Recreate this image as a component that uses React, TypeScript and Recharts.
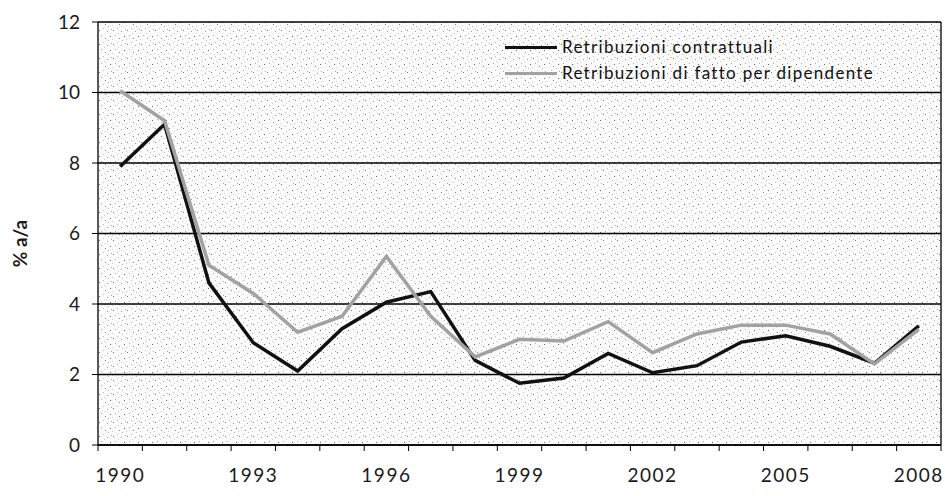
import {
    CartesianGrid,
    Legend,
    Line,
    LineChart,
    ReferenceLine,
    XAxis,
    YAxis,
} from "recharts";

const years = [
    1990, 1991, 1992, 1993, 1994, 1995, 1996, 1997, 1998, 1999, 2000, 2001,
    2002, 2003, 2004, 2005, 2006, 2007, 2008,
];
const contrattuali = [
    7.9, 9.1, 4.6, 2.9, 2.1, 3.3, 4.05, 4.35, 2.4, 1.75, 1.9, 2.6, 2.05, 2.25,
    2.92, 3.1, 2.8, 2.32, 3.38,
];
const fatto = [
    10.05, 9.2, 5.1, 4.3, 3.2, 3.65, 5.35, 3.65, 2.5, 3.0, 2.95, 3.5, 2.62, 3.15,
    3.4, 3.4, 3.15, 2.3, 3.28,
];
const yearLabels = [1990, 1993, 1996, 1999, 2002, 2005, 2008];
const yTicks = [0, 2, 4, 6, 8, 10, 12];

const seriesNames = {
    contrattuali: "Retribuzioni contrattuali",
    fatto: "Retribuzioni di fatto per dipendente",
};

const data = years.map((year, i) => ({
    year,
    contrattuali: contrattuali[i],
    fatto: fatto[i],
}));

// tick marks sit between the years, labels on the years
const boundaries = [...years.map((y) => y - 0.5), years[years.length - 1] + 0.5];
const xTicks = [...boundaries, ...yearLabels].sort((a, b) => a - b);

const FONT = "Lato, 'Open Sans', sans-serif";

// scattered dots for the scanned halftone background
const dots = [
    [1, 2, "#777"], [5, 0, "#bbb"], [9, 3, "#999"], [12, 8, "#666"],
    [3, 7, "#aaa"], [7, 10, "#888"], [0, 11, "#ccc"], [10, 12, "#bbb"],
    [6, 5, "#ccc"], [13, 1, "#aaa"],
];

function YearTick({ x, y, payload }: any) {
    const v = payload.value;
    if (!Number.isInteger(v)) {
        return <line x1={x} x2={x} y1={y} y2={y + 6} stroke="#000" strokeWidth={1} />;
    }
    return (
        <text
            x={x}
            y={y + 32}
            textAnchor="middle"
            dominantBaseline="middle"
            fontFamily={FONT}
            fontSize={19}
            letterSpacing={1.5}
            fill="#1a1a1a"
        >
            {v}
        </text>
    );
}

function AxisTitle({ viewBox }: any) {
    const cx = viewBox.x + 22;
    const cy = viewBox.y + viewBox.height / 2 + 10;
    return (
        <text
            x={cx}
            y={cy}
            transform={`rotate(-90 ${cx} ${cy})`}
            textAnchor="middle"
            dominantBaseline="middle"
            fontFamily={FONT}
            fontWeight="bold"
            fontSize={19}
            fill="#1a1a1a"
        >
            % a/a
        </text>
    );
}

function LegendBox({ payload }: any) {
    return (
        <div
            style={{
                fontFamily: FONT,
                fontSize: 17,
                letterSpacing: 1.3,
                color: "#111",
                lineHeight: "26px",
                whiteSpace: "nowrap",
            }}
        >
            {(payload || []).map((item: any) => (
                <div key={item.value} style={{ display: "flex", alignItems: "center" }}>
                    <span
                        style={{
                            display: "inline-block",
                            width: 52,
                            height: 3,
                            background: item.color,
                            marginRight: 5,
                        }}
                    />
                    <span>{item.value}</span>
                </div>
            ))}
        </div>
    );
}

export default function App() {
    return (
        <div style={{ position: "relative", width: 945, height: 496 }}>
            <style>{"body{margin:0;background:#fff}"}</style>
            <svg width={0} height={0} style={{ position: "absolute" }}>
                <defs>
                    <pattern id="stipple" width={14} height={14} patternUnits="userSpaceOnUse">
                        <rect width={14} height={14} fill="#fbfbfb" />
                        {dots.map(([dx, dy, c], i) => (
                            <rect key={i} x={dx} y={dy} width={1} height={1} fill={c as string} />
                        ))}
                    </pattern>
                </defs>
            </svg>
            <LineChart
                width={945}
                height={496}
                data={data}
                margin={{ top: 22, right: 4, left: 0, bottom: 0 }}
            >
                <CartesianGrid
                    vertical={false}
                    stroke="#000"
                    strokeWidth={1.3}
                    fill="url(#stipple)"
                    fillOpacity={1}
                />
                <XAxis
                    dataKey="year"
                    type="number"
                    domain={[1989.5, 2008.5]}
                    ticks={xTicks}
                    interval={0}
                    tickLine={false}
                    tickSize={0}
                    tickMargin={0}
                    height={51}
                    axisLine={{ stroke: "#000", strokeWidth: 1.3 }}
                    tick={<YearTick />}
                />
                <YAxis
                    domain={[0, 12]}
                    ticks={yTicks}
                    width={98}
                    tickSize={6}
                    tickMargin={12}
                    tickLine={{ stroke: "#000" }}
                    axisLine={{ stroke: "#000", strokeWidth: 1.3 }}
                    tick={{ fill: "#1a1a1a", fontSize: 19, fontFamily: FONT }}
                    label={<AxisTitle />}
                />
                <ReferenceLine x={2008.5} stroke="#000" strokeWidth={1.3} />
                <Legend
                    layout="horizontal"
                    verticalAlign="middle"
                    align="center"
                    wrapperStyle={{ top: 34, left: 505, width: "auto" }}
                    content={<LegendBox />}
                />
                <Line
                    type="linear"
                    dataKey="contrattuali"
                    name={seriesNames.contrattuali}
                    stroke="#111"
                    strokeWidth={3.5}
                    dot={false}
                    isAnimationActive={false}
                />
                <Line
                    type="linear"
                    dataKey="fatto"
                    name={seriesNames.fatto}
                    stroke="#a2a2a2"
                    strokeWidth={3.5}
                    dot={false}
                    isAnimationActive={false}
                />
            </LineChart>
        </div>
    );
}
